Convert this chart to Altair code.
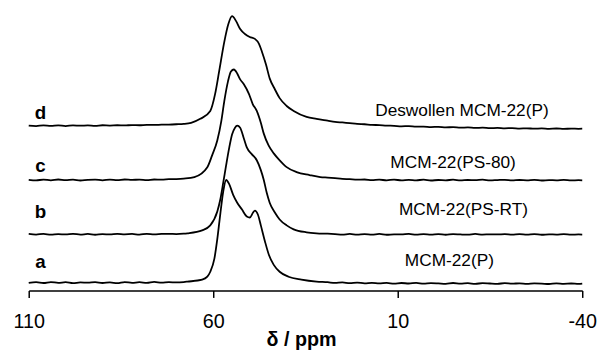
import altair as alt
import pandas as pd

# Series identifiers and vertical stacking offsets (intensity units)
series = ["a", "b", "c", "d"]
offsets = [8, 57, 112, 167]
names = ["MCM-22(P)", "MCM-22(PS-RT)", "MCM-22(PS-80)", "Deswollen MCM-22(P)"]

# Baseline regions (ppm)
left_ppm = [110, 108, 106, 104, 102, 100, 98, 96, 94, 92, 90, 88, 86, 84, 82, 80,
            78, 76, 74, 72, 70, 68]
right_ppm = [29, 27, 25, 23, 21, 19, 17, 15, 13, 11, 9, 7, 5, 3, 1, -1, -3, -5, -7,
             -9, -11, -13, -15, -17, -19, -21, -23, -25, -27, -29, -31, -33, -35,
             -37, -39, -40]

# --- trace a ---
a_left = [-0.3, 0.5, -0.4, 0.6, -0.2, 0.4, -0.6, 0.3, -0.1, 0.5, -0.4, 0.2, -0.5, 0.6,
          -0.2, 0.4, -0.3, 0.7, 0.0, 0.5, 0.2, 0.6]
a_peak_ppm = [67.0, 63.0, 61.6, 60.8, 59.7, 58.9, 58.1, 57.3, 56.5, 55.7, 54.6, 53.5,
              52.2, 50.9, 50.1, 49.2, 48.7, 47.9, 47.1, 46.0, 44.9, 43.6, 42.0, 39.6,
              36.1, 32.0]
a_peak_int = [1, 3, 6, 11, 24, 44, 69, 92, 104, 100, 89, 81,
              74, 67, 66, 71, 73, 69, 58, 42, 28, 18, 11, 6,
              3, 1]
a_right = [0.4, -0.3, 0.2, -0.6, 0.0, -0.7, -0.2, -0.8, -0.3, -1.0, -0.4, -0.9,
           -0.2, -1.1, -0.5, -0.8, -1.2, -0.4, -1.0, -0.6, -1.3, -0.5, -0.9, -1.2,
           -0.6, -1.1, -0.7, -1.3, -0.8, -1.0, -1.4, -0.7, -1.2, -0.9, -1.3, -1.0]

# --- trace b ---
b_left = [0.3, -0.3, 0.4, -0.4, 0.2, -0.2, 0.5, -0.3, 0.3, -0.5, 0.2, -0.2, 0.4, 0.0,
          0.3, -0.3, 0.4, -0.1, 0.3, 0.5, 0.2, 0.6]
b_peak_ppm = [67.0, 63.0, 60.8, 58.9, 58.1, 57.3, 56.5, 55.7, 54.9, 54.1, 53.5, 52.7,
              51.7, 50.9, 49.5, 48.2, 47.1, 46.3, 45.5, 44.7, 43.3, 42.0, 40.1, 38.2,
              34.7, 32.0]
b_peak_int = [1, 4, 9, 23, 35, 52, 70, 87, 101, 108, 110, 108,
              97, 88, 81, 75, 65, 55, 42, 32, 22, 15, 9, 5,
              2, 1]
b_right = [0.6, 0.2, -0.3, 0.3, -0.4, 0.1, -0.3, 0.3, -0.5, 0.0, -0.2, 0.4,
           -0.4, 0.1, -0.3, 0.2, -0.5, 0.1, -0.2, -0.4, 0.3, -0.3, 0.0, -0.2,
           0.2, -0.4, 0.1, -0.3, 0.2, -0.5, -0.1, -0.3, 0.1, -0.4, -0.2, -0.3]

# --- trace c ---
c_left = [0.2, -0.4, 0.4, -0.3, 0.5, -0.2, 0.3, -0.5, 0.2, 0.4, -0.3, 0.4, -0.1, 0.5,
          0.1, 0.4, -0.2, 0.5, 0.3, 0.8, 1.0, 1.5]
c_peak_ppm = [65.1, 61.6, 60.3, 58.9, 57.8, 57.0, 56.0, 55.2, 54.4, 53.5, 52.7, 51.7,
              50.3, 49.3, 48.2, 47.1, 46.3, 45.0, 43.6, 42.0, 40.1, 37.4, 33.9, 31.0]
c_peak_int = [3, 13, 25, 40, 60, 80, 100, 110, 112, 108, 102, 97,
              87, 77, 70, 58, 47, 35, 27, 20, 13, 8, 5, 3]
c_right = [2.4, 1.8, 1.2, 0.8, 0.3, 0.5, -0.2, 0.3, -0.3, 0.4, -0.4, 0.1,
           -0.3, 0.3, -0.5, 0.0, -0.3, 0.3, -0.4, 0.0, -0.2, 0.3, -0.4, -0.1,
           0.2, -0.4, 0.0, -0.3, 0.2, -0.5, -0.1, -0.3, 0.1, -0.4, -0.2, -0.3]

# --- trace d ---
d_left = [0.2, -0.3, 0.3, -0.2, 0.4, -0.3, 0.3, 0.0, 0.4, -0.2, 0.5, 0.2, 0.5, 0.3,
          0.7, 0.5, 0.9, 0.8, 1.1, 1.2, 1.5, 1.9]
d_peak_ppm = [66.0, 63.5, 60.8, 59.5, 58.4, 57.0, 55.9, 54.9, 53.8, 52.7, 51.4, 50.1,
              48.7, 47.6, 46.8, 45.7, 44.7, 43.3, 42.0, 40.1, 38.2, 34.7, 32.0]
d_peak_int = [3, 7, 15, 32, 55, 85, 103, 111, 106, 98, 93, 90,
              88, 83, 75, 62, 48, 37, 28, 20, 15, 9, 7]
d_right = [5.2, 4.0, 3.3, 2.6, 1.9, 1.5, 0.9, 0.6, 0.1, -0.1, -0.6, -0.4, -1.0, -0.8,
           -1.4, -1.1, -1.6, -1.5, -2.0, -1.7, -2.2, -2.0, -2.5, -2.2, -2.6, -2.4,
           -2.9, -2.6, -3.0, -2.7, -3.1, -2.8, -3.2, -2.9, -3.1, -3.0]

# Label positions (ppm, intensity units)
letter_ppm = [106.8, 106.8, 106.8, 106.8]
letter_y = [29, 79, 126, 180]
name_ppm = [-4.0, -7.8, -5.0, -7.4]
name_y = [30, 82, 129, 182]

traces = {
    "a": (a_left, a_peak_ppm, a_peak_int, a_right),
    "b": (b_left, b_peak_ppm, b_peak_int, b_right),
    "c": (c_left, c_peak_ppm, c_peak_int, c_right),
    "d": (d_left, d_peak_ppm, d_peak_int, d_right),
}

rows = []
for s, off in zip(series, offsets):
    left, pk_ppm, pk_int, right = traces[s]
    xs = left_ppm + pk_ppm + right_ppm
    ys = left + pk_int + right
    for x, v in zip(xs, ys):
        rows.append({"series": s, "ppm": x, "y": v + off})
df = pd.DataFrame(rows)

letters = pd.DataFrame({"ppm": letter_ppm, "y": letter_y, "label": series})
labels = pd.DataFrame({"ppm": name_ppm, "y": name_y, "label": names})

xscale = alt.Scale(domain=[-40, 110], reverse=True, nice=False, zero=False)
yscale = alt.Scale(domain=[0, 284], nice=False, zero=False)

lines = alt.Chart(df).mark_line(color="black", strokeWidth=1.8, interpolate="monotone").encode(
    x=alt.X("ppm:Q", scale=xscale,
            axis=alt.Axis(values=[110, 60, 10, -40], title="δ / ppm", grid=False,
                          labelExpr="'' + datum.value",
                          titleX=276, titleY=56, titleBaseline="alphabetic")),
    y=alt.Y("y:Q", scale=yscale, axis=None),
    detail="series:N",
)

letter_text = alt.Chart(letters).mark_text(
    font="Liberation Sans", fontWeight="bold", fontSize=19, color="black",
    baseline="middle", align="center"
).encode(x=alt.X("ppm:Q", scale=xscale), y=alt.Y("y:Q", scale=yscale), text="label:N")

name_text = alt.Chart(labels).mark_text(
    font="Liberation Sans", fontSize=17.5, color="black", baseline="middle", align="center"
).encode(x=alt.X("ppm:Q", scale=xscale), y=alt.Y("y:Q", scale=yscale), text="label:N")

chart = alt.layer(lines, letter_text, name_text).properties(
    width=561, height=284,
    autosize=alt.AutoSizeParams(type="none"),
    padding={"left": 21, "top": 0, "right": 18, "bottom": 60},
).configure_view(stroke=None).configure_axis(
    domainColor="black", domainWidth=1.5, tickColor="black", tickWidth=1.5, tickSize=7,
    labelFont="Liberation Sans", labelFontSize=20, labelColor="black", labelPadding=14,
    labelFlush=False,
    titleFont="Liberation Sans", titleFontSize=20, titleFontWeight="bold",
    titleColor="black",
)

chart.save("out.html", embed_options={"renderer": "svg", "actions": False})
